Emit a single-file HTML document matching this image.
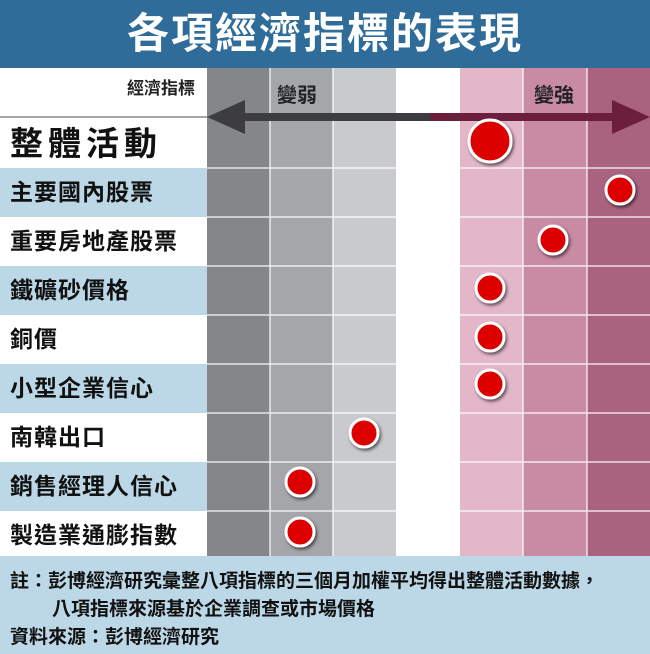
<!DOCTYPE html>
<html><head><meta charset="utf-8"><style>
body{margin:0;width:650px;height:654px;overflow:hidden;background:#fff;font-family:"Liberation Sans","Noto Sans CJK TC",sans-serif;}
.abs{position:absolute}
.title{left:0;top:0;width:650px;height:68px;background:#2f6c9a;color:#fff;font-size:42px;font-weight:bold;text-align:center;line-height:68px;letter-spacing:2px}
.lbl{left:0;width:207px;font-weight:bold;color:#111;font-size:23px;letter-spacing:1px;padding-left:10px;box-sizing:border-box;white-space:nowrap}
.foot{left:0;top:556px;width:650px;height:98px;background:#bcd8e7;font-size:19px;font-weight:bold;color:#111;white-space:nowrap}
</style></head><body>
<div class="abs title">各項經濟指標的表現</div>
<svg class="abs" style="left:0;top:68px" width="650" height="488">
<rect x="207" y="0" width="63" height="488" fill="#85868a"/>
<rect x="270" y="0" width="63" height="488" fill="#a5a6a9"/>
<rect x="333" y="0" width="63" height="488" fill="#c9cacd"/>
<rect x="460" y="0" width="63" height="488" fill="#e3b7c8"/>
<rect x="523" y="0" width="64" height="488" fill="#c98ba4"/>
<rect x="587" y="0" width="63" height="488" fill="#a9637f"/>
<g fill="#bcd8e7">
<rect x="0" y="100" width="207" height="49"/>
<rect x="0" y="198" width="207" height="49"/>
<rect x="0" y="296" width="207" height="49"/>
<rect x="0" y="394" width="207" height="49"/>
</g>
<g stroke="#fff" stroke-width="1.5" opacity="0.8">
<line x1="270" y1="0" x2="270" y2="488"/><line x1="333" y1="0" x2="333" y2="488"/>
<line x1="523" y1="0" x2="523" y2="488"/><line x1="587" y1="0" x2="587" y2="488"/>
<line x1="207" y1="100" x2="650" y2="100"/><line x1="207" y1="149" x2="650" y2="149"/>
<line x1="207" y1="198" x2="650" y2="198"/><line x1="207" y1="247" x2="650" y2="247"/>
<line x1="207" y1="296" x2="650" y2="296"/><line x1="207" y1="345" x2="650" y2="345"/>
<line x1="207" y1="394" x2="650" y2="394"/><line x1="207" y1="443" x2="650" y2="443"/>
</g>
<line x1="0" y1="49" x2="207" y2="49" stroke="#888" stroke-width="1.5"/>
<rect x="230" y="45" width="205" height="8" fill="#3d3d40"/>
<rect x="430" y="45" width="195" height="8" fill="#6b1f3d"/>
<polygon points="207,49 245,32 245,66" fill="#3d3d40"/>
<polygon points="650,49 612,32 612,66" fill="#6b1f3d"/>
<text x="195" y="26" text-anchor="end" font-size="17" font-weight="bold" fill="#222">經濟指標</text>
<text x="277" y="34" font-size="20" font-weight="bold" fill="#222">變弱</text>
<text x="534" y="34" font-size="20" font-weight="bold" fill="#222">變強</text>
<defs><filter id="s" x="-50%" y="-50%" width="200%" height="200%"><feDropShadow dx="1.5" dy="2" stdDeviation="1.5" flood-color="#000" flood-opacity="0.6"/></filter></defs>
<g fill="#dd0000" stroke="#fff" stroke-width="3" filter="url(#s)">
<circle cx="490" cy="73" r="21"/>
<circle cx="620" cy="122" r="14"/>
<circle cx="553" cy="172" r="14"/>
<circle cx="490" cy="220" r="14"/>
<circle cx="490" cy="269" r="14"/>
<circle cx="490" cy="316" r="14"/>
<circle cx="364" cy="365" r="14"/>
<circle cx="300" cy="414" r="14"/>
<circle cx="300" cy="464" r="14"/>
</g>
</svg>
<div class="abs lbl" style="top:120px;font-size:33px;letter-spacing:5px;line-height:48px">整體活動</div>
<div class="abs lbl" style="top:168px;line-height:49px">主要國內股票</div>
<div class="abs lbl" style="top:217px;line-height:49px">重要房地產股票</div>
<div class="abs lbl" style="top:266px;line-height:49px">鐵礦砂價格</div>
<div class="abs lbl" style="top:315px;line-height:49px">銅價</div>
<div class="abs lbl" style="top:364px;line-height:49px">小型企業信心</div>
<div class="abs lbl" style="top:413px;line-height:49px">南韓出口</div>
<div class="abs lbl" style="top:462px;line-height:49px">銷售經理人信心</div>
<div class="abs lbl" style="top:511px;line-height:49px">製造業通膨指數</div>
<div class="abs foot">
<div class="abs" style="left:10px;top:10px">註：彭博經濟研究彙整八項指標的三個月加權平均得出整體活動數據，</div>
<div class="abs" style="left:52px;top:38px">八項指標來源基於企業調查或市場價格</div>
<div class="abs" style="left:10px;top:66px">資料來源：彭博經濟研究</div>
</div>
</body></html>
